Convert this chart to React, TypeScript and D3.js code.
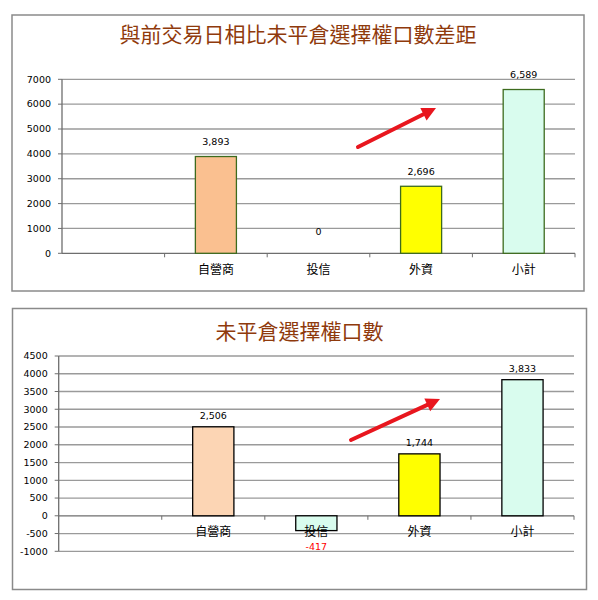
import * as React from "react";
import * as d3 from "d3";

// Chart data
const categories = ["", "自營商", "投信", "外資", "小計"];
const diffValues: (number | null)[] = [null, 3893, 0, 2696, 6589];
const oiValues: (number | null)[] = [null, 2506, -417, 1744, 3833];
const diffTicks = [0, 1000, 2000, 3000, 4000, 5000, 6000, 7000];
const oiTicks = [-1000, -500, 0, 500, 1000, 1500, 2000, 2500, 3000, 3500, 4000, 4500];

const diffTitle = "與前交易日相比未平倉選擇權口數差距";
const oiTitle = "未平倉選擇權口數";

const diffFills = ["none", "#fac090", "#d9fcee", "#ffff00", "#d9fcee"];
const oiFills = ["none", "#fcd5b4", "#d9fcee", "#ffff00", "#d9fcee"];

interface PanelProps {
    box: [number, number, number, number],
    title: string,
    titleY: number,
    values: (number | null)[],
    ticks: number[],
    fills: string[],
    barStroke: string,
    plot: { x0: number, x1: number, yTop: number, yBottom: number },
    labelGap: number,
    arrow: [number, number, number, number]
}

// Excel-style numbers: thousands separator, plain hyphen for negatives
const fmt = (v: number) => d3.format(",")(v).replace("\u2212", "-");

function Panel(props: PanelProps) {
    const { plot, ticks, values } = props;
    const y = d3.scaleLinear()
        .domain([ticks[0], ticks[ticks.length - 1]])
        .range([plot.yBottom, plot.yTop]);
    const x = d3.scaleBand<string>()
        .domain(categories)
        .range([plot.x0, plot.x1])
        .paddingInner(0.6)
        .paddingOuter(0.3);
    const step = x.step();
    const y0 = y(0);
    const tickLabelFont = "'DejaVu Sans', Verdana, sans-serif";
    const cjk = "'Noto Sans CJK TC', 'Noto Sans CJK SC', sans-serif";

    const [ax, ay, bx, by] = props.arrow;
    const ang = Math.atan2(by - ay, bx - ax);
    const headLen = 14, headW = 7;
    const hx = bx - headLen * Math.cos(ang), hy = by - headLen * Math.sin(ang);
    const head = [
        [bx, by],
        [hx + headW * Math.sin(ang), hy - headW * Math.cos(ang)],
        [hx - headW * Math.sin(ang), hy + headW * Math.cos(ang)]
    ].map(p => p.join(",")).join(" ");

    return (
        <g>
            <rect x={props.box[0]} y={props.box[1]} width={props.box[2]} height={props.box[3]}
                fill="#fff" stroke="#8a8a8a" strokeWidth={1.5} />
            <text x={(props.box[0] * 2 + props.box[2]) / 2} y={props.titleY} textAnchor="middle"
                fontFamily={cjk} fontSize={21} fill="#8f3a0c">{props.title}</text>

            {/* gridlines */}
            {ticks.map(t => (
                <line key={"g" + t} x1={plot.x0} x2={plot.x1} y1={y(t)} y2={y(t)}
                    stroke={t === 0 ? "#6e6e6e" : "#9a9a9a"} strokeWidth={1.3} />
            ))}
            {/* y axis */}
            <line x1={plot.x0} x2={plot.x0} y1={plot.yTop} y2={plot.yBottom} stroke="#6e6e6e" strokeWidth={1.3} />
            {ticks.map(t => (
                <g key={"t" + t}>
                    <line x1={plot.x0 - 4} x2={plot.x0} y1={y(t)} y2={y(t)} stroke="#6e6e6e" />
                    <text x={plot.x0 - 11} y={y(t)} dy="0.35em" textAnchor="end"
                        fontFamily={tickLabelFont} fontSize={9.5} fill="#000">{fmt(t).replace(",", "")}</text>
                </g>
            ))}
            {/* category ticks */}
            {categories.map((c, i) => (
                <line key={"c" + i} x1={plot.x0 + step * (i + 1)} x2={plot.x0 + step * (i + 1)}
                    y1={y0} y2={y0 + 4} stroke="#6e6e6e" />
            ))}

            {/* bars */}
            {categories.map((c, i) => {
                const v = values[i];
                if (v === null) return null;
                const bx0 = x(c) as number;
                const top = Math.min(y(v), y0);
                const h = Math.abs(y(v) - y0);
                const neg = v < 0;
                return (
                    <g key={"b" + i}>
                        {h > 0 && <rect x={bx0} y={top} width={x.bandwidth()} height={h}
                            fill={props.fills[i]} stroke={props.barStroke} strokeWidth={1.3} />}
                        <text x={bx0 + x.bandwidth() / 2}
                            y={neg ? y(v) + 16 : (v === 0 ? y0 - 22 : y(v) - props.labelGap)}
                            dy="0.35em" textAnchor="middle" fontFamily={tickLabelFont} fontSize={9.5}
                            fill={neg ? "#ff0000" : "#000"}>{fmt(v)}</text>
                    </g>
                );
            })}

            {/* category labels */}
            {categories.map((c, i) => (
                <text key={"l" + i} x={(x(c) as number) + x.bandwidth() / 2} y={y0 + 16} dy="0.35em"
                    textAnchor="middle" fontFamily={cjk} fontSize={12} fill="#000">{c}</text>
            ))}

            {/* arrow */}
            <line x1={ax} y1={ay} x2={hx} y2={hy} stroke="#e8161e" strokeWidth={4} strokeLinecap="round" />
            <polygon points={head} fill="#e8161e" />
        </g>
    );
}

export default function App() {
    return (
        <div style={{ position: "absolute", left: 0, top: 0 }}>
            <svg width={598} height={600} style={{ display: "block" }}>
                <rect width={598} height={600} fill="#fff" />
                <Panel box={[12, 15, 572, 276]} title={diffTitle} titleY={42}
                    values={diffValues} ticks={diffTicks} fills={diffFills} barStroke="#3d6b1e"
                    plot={{ x0: 62, x1: 575, yTop: 79.3, yBottom: 253.3 }} labelGap={15}
                    arrow={[358, 147, 436, 108]} />
                <Panel box={[12.5, 308.5, 574, 281]} title={oiTitle} titleY={339}
                    values={oiValues} ticks={oiTicks} fills={oiFills} barStroke="#000"
                    plot={{ x0: 58.7, x1: 574, yTop: 356, yBottom: 551.3 }} labelGap={11}
                    arrow={[351, 440, 440, 399]} />
            </svg>
        </div>
    );
}
